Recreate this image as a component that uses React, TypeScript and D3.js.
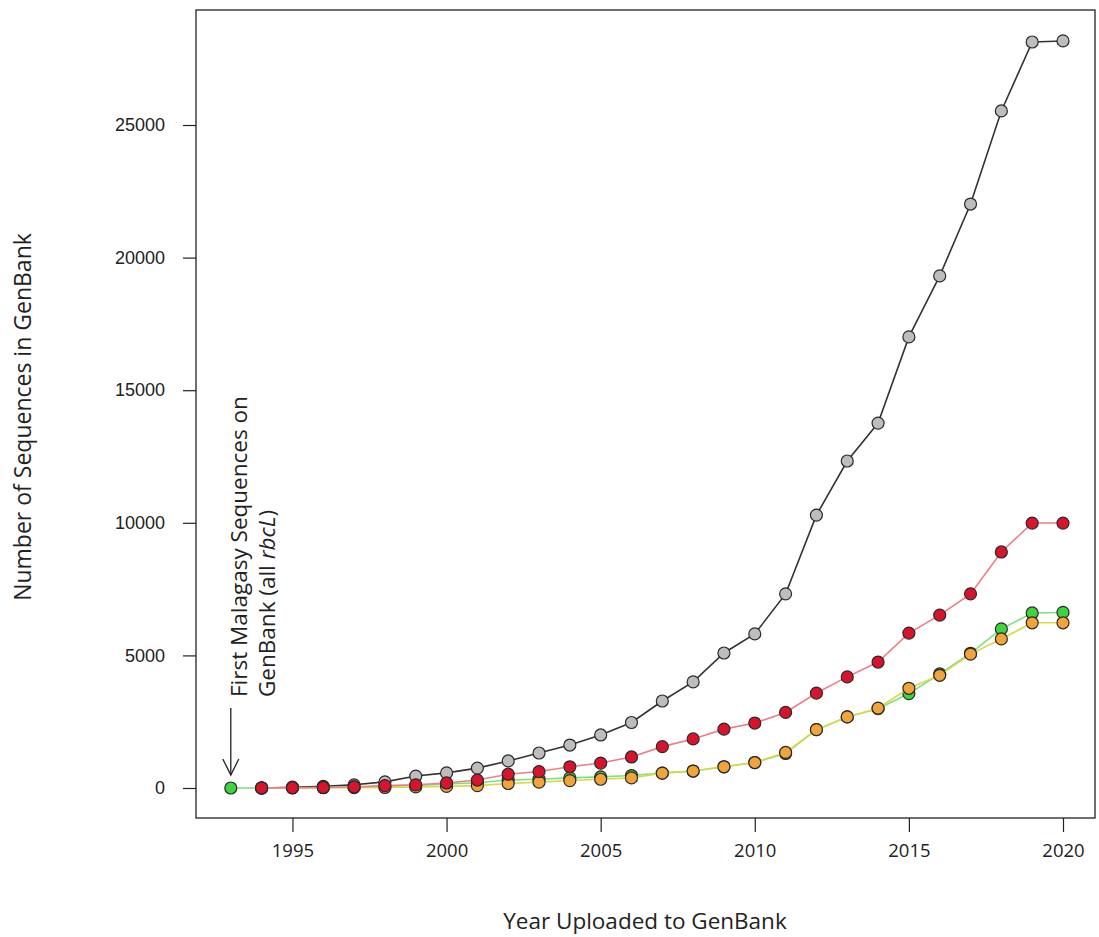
import React, { useEffect, useRef } from "react";
import * as d3 from "d3";

// cumulative GenBank sequences per year
const years = d3.range(1993, 2021);
const allSeqs = [null, 0, 30, 60, 120, 230, 450, 570, 750, 1020, 1320, 1620, 2000, 2470, 3280, 4000, 5090, 5810, 7320, 10290, 12330, 13760, 17010, 19310, 22020, 25530, 28130, 28170];
const redSeqs = [null, 5, 10, 20, 40, 90, 120, 190, 300, 520, 620, 800, 940, 1170, 1560, 1850, 2220, 2450, 2850, 3580, 4190, 4750, 5840, 6520, 7320, 8900, 9990, 9990];
const greenSeqs = [0, 0, 10, 20, 40, 60, 100, 150, 200, 300, 330, 380, 420, 470, 560, 640, 800, 960, 1300, 2200, 2680, 2990, 3560, 4300, 5080, 6000, 6600, 6620];
const orangeSeqs = [null, 0, 5, 10, 15, 20, 40, 60, 90, 170, 220, 280, 330, 380, 560, 640, 800, 960, 1340, 2200, 2680, 3010, 3760, 4250, 5050, 5620, 6230, 6230];
const xTicks = [1995, 2000, 2005, 2010, 2015, 2020];
const yTicks = [0, 5000, 10000, 15000, 20000, 25000];

const series = [
  { name: "all", values: allSeqs, line: "#333333", fill: "#bdbdbd" },
  { name: "green", values: greenSeqs, line: "#7ee07e", fill: "#3dd43d" },
  { name: "orange", values: orangeSeqs, line: "#d9d94a", fill: "#f0a43a" },
  { name: "red", values: redSeqs, line: "#f07c88", fill: "#d8142c" },
];

const App = () => {
  const ref = useRef(null);

  useEffect(() => {
    const svg = d3.select(ref.current);
    svg.selectAll("*").remove();

    const x = d3.scaleLinear().domain([1993, 2020]).range([230.8, 1063]);
    const y = d3.scaleLinear().domain([0, 25000]).range([788, 125]);
    const box = { left: 196, right: 1095, top: 10, bottom: 818 };
    const sans = "'Open Sans', sans-serif";

    // plot box
    svg.append("rect")
      .attr("x", box.left).attr("y", box.top)
      .attr("width", box.right - box.left).attr("height", box.bottom - box.top)
      .attr("fill", "none").attr("stroke", "#222").attr("stroke-width", 1.3);

    // y axis
    const yAxis = svg.append("g")
      .attr("transform", `translate(${box.left},0)`)
      .call(d3.axisLeft(y).tickValues(yTicks).tickSize(13).tickPadding(18).tickFormat(d3.format("d")));
    yAxis.select(".domain").remove();
    yAxis.selectAll("line").attr("stroke", "#222").attr("stroke-width", 1.2);
    yAxis.selectAll("text")
      .style("font-family", "'Liberation Sans', Arial, sans-serif")
      .style("font-size", "18px").attr("fill", "#222");

    // x axis
    const xAxis = svg.append("g")
      .attr("transform", `translate(0,${box.bottom})`)
      .call(d3.axisBottom(x).tickValues(xTicks).tickSize(14).tickPadding(12).tickFormat(d3.format("d")));
    xAxis.select(".domain").remove();
    xAxis.selectAll("line").attr("stroke", "#222").attr("stroke-width", 1.2);
    xAxis.selectAll("text")
      .style("font-family", sans)
      .style("font-size", "18.5px").attr("fill", "#222");

    // series
    series.forEach(s => {
      const pts = years.map((yr, i) => ({ yr, v: s.values[i] })).filter(d => d.v !== null);
      const line = d3.line().x(d => x(d.yr)).y(d => y(d.v));
      svg.append("path")
        .datum(pts)
        .attr("d", line)
        .attr("fill", "none")
        .attr("stroke", s.line)
        .attr("stroke-width", 1.6);
      svg.selectAll(".pt-" + s.name)
        .data(pts)
        .enter()
        .append("circle")
        .attr("class", "pt-" + s.name)
        .attr("cx", d => x(d.yr))
        .attr("cy", d => y(d.v))
        .attr("r", 6)
        .attr("fill", s.fill)
        .attr("stroke", "#2a2a2a")
        .attr("stroke-width", 1.2);
    });

    // axis titles
    svg.append("text")
      .attr("transform", "translate(31,417) rotate(-90)")
      .attr("text-anchor", "middle")
      .style("font-family", sans)
      .style("font-size", "23px")
      .attr("fill", "#222")
      .text("Number of Sequences in GenBank");

    svg.append("text")
      .attr("x", 645).attr("y", 929)
      .attr("text-anchor", "middle")
      .style("font-family", sans)
      .style("font-size", "22.5px")
      .attr("fill", "#222")
      .text("Year Uploaded to GenBank");

    // annotation
    const ax = x(1993);
    const note = svg.append("g")
      .attr("transform", "translate(0,697) rotate(-90)")
      .style("font-family", sans)
      .style("font-size", "22.5px")
      .attr("fill", "#222");
    note.append("text").attr("x", 0).attr("y", 247).text("First Malagasy Sequences on");
    const l2 = note.append("text").attr("x", 0).attr("y", 275);
    l2.append("tspan").text("GenBank (all ");
    l2.append("tspan").style("font-style", "italic").text("rbcL");
    l2.append("tspan").text(")");

    svg.append("line")
      .attr("x1", ax).attr("x2", ax).attr("y1", 708).attr("y2", 775)
      .attr("stroke", "#222").attr("stroke-width", 1.3);
    svg.append("path")
      .attr("d", `M${ax - 8},${759} L${ax},${775} L${ax + 8},${759}`)
      .attr("fill", "none").attr("stroke", "#222").attr("stroke-width", 1.3);
  }, []);

  return (
    <svg
      ref={ref}
      width={1099}
      height={937}
      style={{ position: "absolute", left: 0, top: 0, background: "#fff" }}
    />
  );
};

export default App;
